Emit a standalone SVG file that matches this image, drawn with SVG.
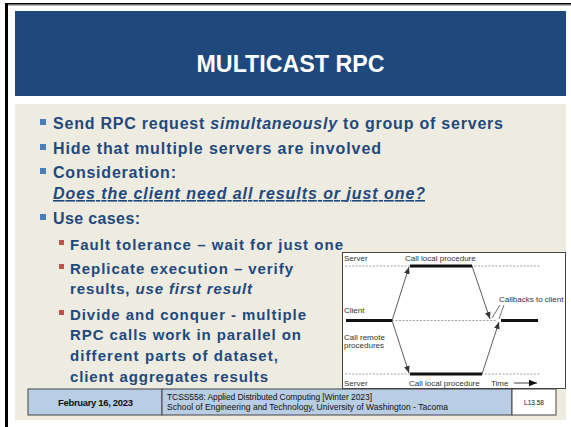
<svg xmlns="http://www.w3.org/2000/svg" width="571" height="427" viewBox="0 0 571 427">
<style>
.b{font-family:"Liberation Sans",Arial,sans-serif;font-weight:bold;fill:#1F497D;}
.m{font-size:16px;}
.s{font-size:15px;}
.d{font-family:"Liberation Sans",Arial,sans-serif;font-size:8px;fill:#333;}
.f{font-family:"Liberation Sans",Arial,sans-serif;fill:#111;}
.dash{stroke:#888;stroke-width:0.8;stroke-dasharray:2,1.5;fill:none;}
.thick{stroke:#111;stroke-width:3;fill:none;}
.arr{stroke:#333;stroke-width:0.8;fill:none;marker-end:url(#ah);}
</style>
<defs>
<marker id="ah" viewBox="0 0 10 10" refX="10" refY="5" markerWidth="7" markerHeight="7" orient="auto" markerUnits="userSpaceOnUse">
<path d="M0,1 L10,5 L0,9 z" fill="#333"/>
</marker>
<marker id="ah2" viewBox="0 0 10 10" refX="10" refY="5" markerWidth="8" markerHeight="8" orient="auto" markerUnits="userSpaceOnUse">
<path d="M0,1 L10,5 L0,9 z" fill="#111"/>
</marker>
</defs>
<rect width="571" height="427" fill="#fff"/>
<rect x="5" y="3" width="566" height="1.6" fill="#000"/>
<rect x="5" y="4.6" width="566" height="1" fill="#888"/>
<rect x="5" y="3" width="3" height="424" fill="#000"/>
<g id="title">
<rect x="15" y="11" width="551" height="85" fill="#1F497D"/>
<text x="290.5" y="72" text-anchor="middle" font-family="'Liberation Sans',Arial,sans-serif" font-size="24" font-weight="bold" fill="#fff" textLength="188" lengthAdjust="spacingAndGlyphs">MULTICAST RPC</text>
</g>
<rect x="15" y="104" width="551" height="316" fill="#EEEBE0"/>
<g id="bullets">
<rect x="40" y="119" width="6" height="6" fill="#4A7EBB"/>
<rect x="40" y="144" width="6" height="6" fill="#4A7EBB"/>
<rect x="40" y="168" width="6" height="6" fill="#4A7EBB"/>
<rect x="40" y="214" width="6" height="6" fill="#4A7EBB"/>
<text class="b m" x="53" y="129" textLength="450">Send RPC request <tspan font-style="italic">simultaneously</tspan> to group of servers</text>
<text class="b m" x="53" y="154" textLength="328">Hide that multiple servers are involved</text>
<text class="b m" x="53" y="178" textLength="123">Consideration:</text>
<text class="b m" x="53" y="199" textLength="372" font-style="italic" text-decoration="underline">Does the client need all results or just one?</text>
<text class="b m" x="53" y="224" textLength="87">Use cases:</text>
<rect x="59" y="240" width="5" height="5" fill="#C0504D"/>
<rect x="59" y="264" width="5" height="5" fill="#C0504D"/>
<rect x="59" y="310" width="5" height="5" fill="#C0504D"/>
<text class="b s" x="70" y="250" textLength="273">Fault tolerance – wait for just one</text>
<text class="b s" x="70" y="274" textLength="223">Replicate execution – verify</text>
<text class="b s" x="70" y="294" textLength="182">results, <tspan font-style="italic">use first result</tspan></text>
<text class="b s" x="70" y="320" textLength="236">Divide and conquer - multiple</text>
<text class="b s" x="70" y="340" textLength="231">RPC calls work in parallel on</text>
<text class="b s" x="70" y="361" textLength="208">different parts of dataset,</text>
<text class="b s" x="70" y="382" textLength="198">client aggregates results</text>
</g>
<g id="diagram">
<rect x="342.5" y="252.5" width="223" height="136" fill="#fff" stroke="#444" stroke-width="1"/>
<g id="labels">
<text class="d" x="344" y="261">Server</text>
<text class="d" x="405" y="261">Call local procedure</text>
<text class="d" x="499" y="302">Callbacks to client</text>
<text class="d" x="344" y="313">Client</text>
<text class="d" x="344" y="340">Call remote</text>
<text class="d" x="344" y="348">procedures</text>
<text class="d" x="344" y="386">Server</text>
<text class="d" x="409" y="386">Call local procedure</text>
<text class="d" x="491" y="386">Time</text>
</g>
<g id="connectors">
<line class="dash" x1="345" y1="266" x2="540" y2="266"/>
<line class="dash" x1="392" y1="320.5" x2="496" y2="320.5"/>
<line class="dash" x1="345" y1="374" x2="540" y2="374"/>
<line class="thick" x1="410" y1="266" x2="472" y2="266"/>
<line class="thick" x1="346" y1="320.5" x2="392" y2="320.5"/>
<line class="thick" x1="501" y1="320.5" x2="538" y2="320.5"/>
<line class="thick" x1="410" y1="374" x2="482" y2="374"/>
<line class="arr" x1="392" y1="320.5" x2="409" y2="267"/>
<line class="arr" x1="392" y1="320.5" x2="409" y2="373"/>
<line class="arr" x1="472" y1="266" x2="490" y2="319"/>
<line class="arr" x1="482" y1="374" x2="499" y2="322"/>
<line stroke="#333" stroke-width="0.7" x1="500" y1="305" x2="492" y2="318"/>
<line stroke="#333" stroke-width="0.7" x1="504" y1="305" x2="499" y2="319"/>
<line stroke="#111" stroke-width="0.8" x1="514" y1="383" x2="537" y2="383" marker-end="url(#ah2)"/>
</g>
</g>
<g id="footer">
<rect x="28" y="389" width="134" height="26" fill="#B9CDE5" stroke="#444" stroke-width="1"/>
<rect x="162" y="389" width="350" height="26" fill="#B9CDE5" stroke="#444" stroke-width="1"/>
<rect x="512" y="389" width="44" height="26" fill="#fff" stroke="#444" stroke-width="1"/>
<text class="f" x="95.5" y="406" font-size="9.5" font-weight="bold" text-anchor="middle" textLength="75">February 16, 2023</text>
<text class="f" x="167" y="400" font-size="8.5" textLength="205">TCSS558: Applied Distributed Computing [Winter 2023]</text>
<text class="f" x="167" y="410" font-size="8.5" textLength="281">School of Engineering and Technology, University of Washington - Tacoma</text>
<text class="f" x="534" y="405" font-size="6.5" text-anchor="middle">L13.58</text>
</g>
</svg>
